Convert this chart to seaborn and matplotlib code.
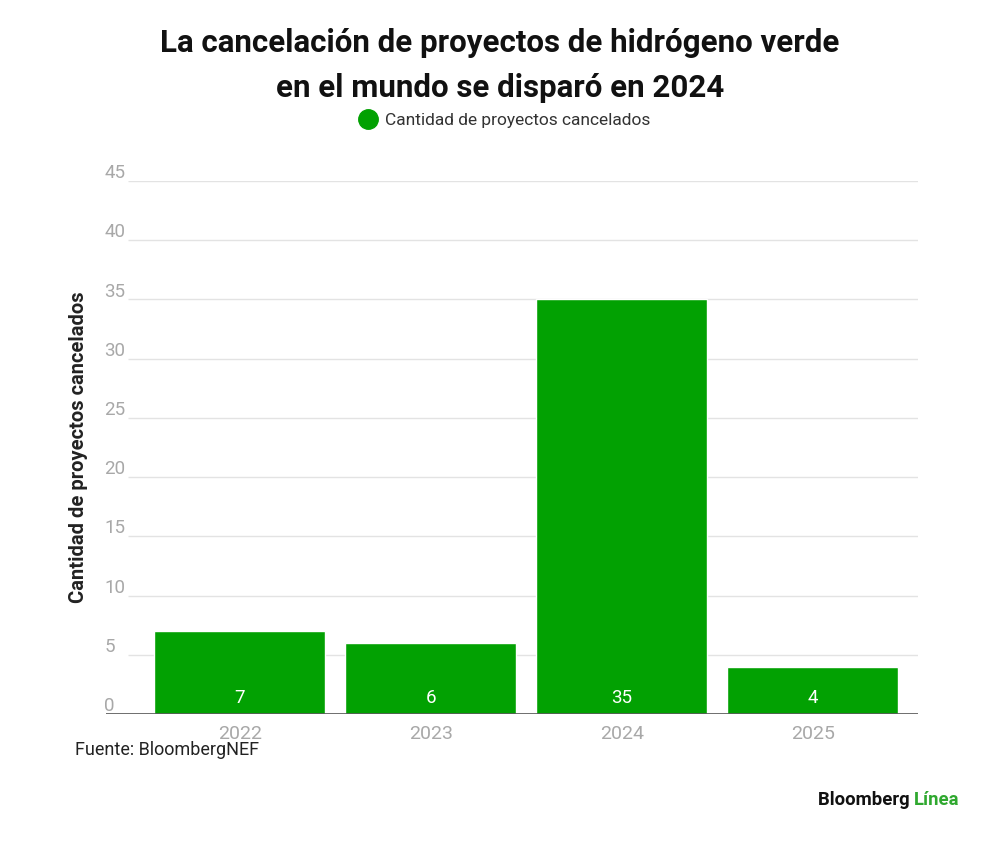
import matplotlib
matplotlib.use("Agg")
import matplotlib.pyplot as plt
import seaborn as sns
import pandas as pd
from matplotlib.lines import Line2D
import matplotlib.transforms as mtransforms

years = ["2022", "2023", "2024", "2025"]
cancelled = [7, 6, 35, 4]
yticks = [0, 5, 10, 15, 20, 25, 30, 35, 40, 45]
series_name = "Cantidad de proyectos cancelados"
title = "La cancelación de proyectos de hidrógeno verde\nen el mundo se disparó en 2024"
source = "Fuente: BloombergNEF"

GREEN = "#02a102"
sns.set_theme(style="white")
plt.rcParams['font.family'] = ['Roboto', 'DejaVu Sans']

df = pd.DataFrame({"year": years, "value": cancelled})

fig = plt.figure(figsize=(10, 8.44), dpi=100)
ax = fig.add_axes([0.106, 0.154, 0.812, 0.6315])

sns.barplot(data=df, x="year", y="value", color=GREEN, saturation=1,
            width=0.895, ax=ax, zorder=3)
ax.set_xlim(-0.70, 3.55)
ax.set_ylim(0, 45)

# gridlines (start right of the tick labels)
for t in yticks[1:]:
    ax.hlines(t, -0.586, 3.55, color="#e3e3e3", lw=1, zorder=1)
ax.axhline(0, color="#555555", lw=1.2, zorder=4)

for s in ax.spines.values():
    s.set_visible(False)

ax.set_yticks(yticks)
ax.set_yticklabels([])
ax.tick_params(axis="y", length=0)
trans = mtransforms.blended_transform_factory(ax.transAxes, ax.transData)
for t in yticks:
    ax.text(-0.002, t + 0.25, str(t), transform=trans, ha="left", va="baseline",
            fontsize=13.5, color="#a8a8a8")

ax.tick_params(axis="x", length=0, pad=8, labelsize=14, labelcolor="#a8a8a8")
ax.set_xlabel("")
ax.set_ylabel(series_name, fontsize=14.5, fontweight="bold", color="#222222")
ax.yaxis.set_label_coords(-0.022, 0.5)

for i, v in enumerate(cancelled):
    ax.text(i, 1.35, str(v), ha="center", va="center", color="white", fontsize=13.5, zorder=5)

fig.text(0.5, 0.922, title, ha="center", va="center", fontsize=22.5,
         fontweight="bold", color="#111111", linespacing=1.62)

handle = Line2D([], [], marker="o", linestyle="none", markersize=14,
                markerfacecolor=GREEN, markeredgecolor=GREEN)
fig.legend([handle], [series_name], loc="center", bbox_to_anchor=(0.505, 0.857),
           frameon=False, fontsize=12.5, handletextpad=0.5, handlelength=1.0,
           labelcolor="#333333")

fig.text(0.075, 0.111, source, ha="left", va="center", fontsize=13, color="#222222")
t1 = fig.text(0.818, 0.052, "Bloomberg ", ha="left", va="center", fontsize=13.3,
              fontweight="bold", color="#111111")
fig.canvas.draw()
bb = t1.get_window_extent()
fig.text(bb.x1 / fig.bbox.width, 0.052, "Línea", ha="left", va="center", fontsize=13.3,
         fontweight="bold", color="#2fa82f")

fig.savefig("out.png", dpi=100)
